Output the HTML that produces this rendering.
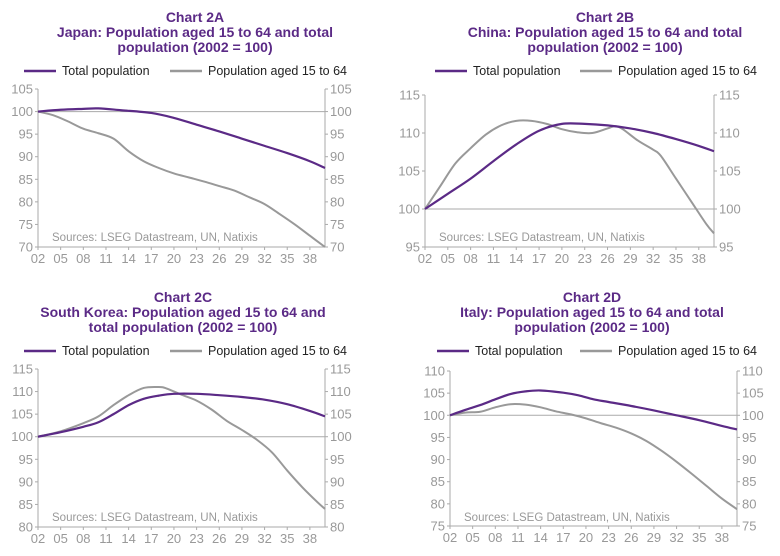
<!DOCTYPE html>
<html><head><meta charset="utf-8"><style>
body{margin:0;background:#fff;width:780px;height:556px;overflow:hidden;font-family:"Liberation Sans",Arial,sans-serif}
svg{position:absolute;left:0;top:0}
.t{font-weight:bold;fill:#5b2a86;font-size:14px;text-anchor:middle}
.lg{font-size:12.5px;fill:#222}
.ax{font-size:13px;fill:#999}
.src{font-size:11.5px;fill:#999}
</style></head><body>
<svg id="s" width="780" height="556" xmlns="http://www.w3.org/2000/svg">
<text class="t" x="195" y="22">Chart 2A</text>
<text class="t" x="195" y="37">Japan: Population aged 15 to 64 and total</text>
<text class="t" x="195" y="52">population (2002 = 100)</text>
<text class="t" x="605" y="22">Chart 2B</text>
<text class="t" x="605" y="37">China: Population aged 15 to 64 and total</text>
<text class="t" x="605" y="52">population (2002 = 100)</text>
<text class="t" x="183" y="302">Chart 2C</text>
<text class="t" x="183" y="317">South Korea: Population aged 15 to 64 and</text>
<text class="t" x="183" y="332">total population (2002 = 100)</text>
<text class="t" x="592" y="302">Chart 2D</text>
<text class="t" x="592" y="317">Italy: Population aged 15 to 64 and total</text>
<text class="t" x="592" y="332">population (2002 = 100)</text>

<text class="lg" x="62" y="75">Total population</text><text class="lg" x="208" y="75">Population aged 15 to 64</text>
<text class="lg" x="473" y="75">Total population</text><text class="lg" x="618" y="75">Population aged 15 to 64</text>
<text class="lg" x="62" y="355">Total population</text><text class="lg" x="208" y="355">Population aged 15 to 64</text>
<text class="lg" x="475" y="355">Total population</text><text class="lg" x="618" y="355">Population aged 15 to 64</text>

<text class="src" x="52" y="241">Sources: LSEG Datastream, UN, Natixis</text>
<text class="src" x="439" y="241">Sources: LSEG Datastream, UN, Natixis</text>
<text class="src" x="52" y="521">Sources: LSEG Datastream, UN, Natixis</text>
<text class="src" x="464" y="521">Sources: LSEG Datastream, UN, Natixis</text>
<g id="g"></g>
</svg>
<script>
const NS="http://www.w3.org/2000/svg",g=document.getElementById('g');
function el(n,a,txt){const e=document.createElementNS(NS,n);for(const k in a)e.setAttribute(k,a[k]);if(txt!==undefined)e.textContent=txt;g.appendChild(e);return e;}
const XL=["02","05","08","11","14","17","20","23","26","29","32","35","38"];
const P="#5b2a86",G="#999";
const charts=[
{L:38,R:325,T:89,B:247,max:105,min:70,yl:["105","100","95","90","85","80","75","70"],lg:[24,170,71],
tot:[[2,100],[5,100.4],[8,100.6],[10,100.7],[13,100.3],[17,99.7],[20,98.6],[23,97.1],[26,95.6],[29,94.0],[32,92.4],[35,90.8],[38,89.0],[40,87.5]],
wrk:[[2,100],[4,99.2],[6,97.8],[8,96.2],[10,95.2],[12,94.0],[14,91.2],[16,89.0],[18,87.5],[20,86.3],[22,85.4],[24,84.5],[26,83.5],[28,82.5],[30,81.0],[32,79.5],[34,77.3],[36,75.0],[38,72.5],[40,70]]},
{L:425,R:714,T:95,B:247,max:115,min:95,yl:["115","110","105","100","95"],lg:[435,580,71],
tot:[[2,100],[5,102],[8,104],[11,106.3],[14,108.5],[17,110.3],[20,111.2],[23,111.2],[26,111.0],[29,110.6],[32,110.0],[35,109.2],[38,108.3],[40,107.6]],
wrk:[[2,100],[4,103],[6,106],[8,108],[10,109.8],[12,111],[14,111.6],[16,111.6],[18,111.2],[20,110.5],[22,110.1],[24,110.0],[26,110.6],[27,110.9],[28,110.5],[30,109.0],[32,107.8],[33,107],[35,104],[37,101],[39,98],[40,96.8]]},
{L:38,R:325,T:369,B:527,max:115,min:80,yl:["115","110","105","100","95","90","85","80"],lg:[24,170,351],
tot:[[2,100],[5,101],[8,102.2],[10,103.2],[12,105],[14,107],[16,108.4],[18,109.1],[20,109.5],[23,109.5],[26,109.2],[29,108.8],[32,108.2],[35,107.2],[38,105.7],[40,104.5]],
wrk:[[2,100],[5,101.2],[8,103],[10,104.5],[12,107],[14,109.2],[16,110.8],[18,111],[19,110.7],[21,109.3],[23,108],[25,106],[27,103.5],[29,101.5],[31,99.3],[33,96.5],[35,92.5],[37,88.8],[39,85.5],[40,84]]},
{L:450,R:737,T:371,B:526,max:110,min:75,yl:["110","105","100","95","90","85","80","75"],lg:[437,580,351],
tot:[[2,100],[4,101.2],[6,102.3],[8,103.6],[10,104.8],[12,105.4],[14,105.6],[17,105.1],[19,104.5],[21,103.6],[23,103],[26,102.1],[29,101.1],[32,100],[35,98.9],[38,97.6],[40,96.8]],
wrk:[[2,100],[4,100.6],[6,100.8],[8,101.8],[10,102.5],[12,102.4],[14,101.8],[16,100.9],[18,100.2],[20,99.3],[22,98.2],[24,97.2],[26,95.9],[28,94.2],[30,92],[32,89.5],[34,86.8],[36,84],[38,81.2],[40,78.8]]}];
function smooth(pts){let d="M"+pts[0][0]+","+pts[0][1];for(let i=0;i<pts.length-1;i++){const p0=pts[i-1]||pts[i],p1=pts[i],p2=pts[i+1],p3=pts[i+2]||p2;
d+=` C${p1[0]+(p2[0]-p0[0])/6},${p1[1]+(p2[1]-p0[1])/6} ${p2[0]-(p3[0]-p1[0])/6},${p2[1]-(p3[1]-p1[1])/6} ${p2[0]},${p2[1]}`;}return d;}
charts.forEach(c=>{
 const X=yr=>c.L+(yr-2)*(c.R-c.L)/38, Y=v=>c.T+(c.max-v)*(c.B-c.T)/(c.max-c.min);
 el('line',{x1:c.L,y1:Y(100),x2:c.R,y2:Y(100),stroke:"#aaa","stroke-width":1});
 el('line',{x1:c.L,y1:c.T,x2:c.L,y2:c.B,stroke:"#aaa"});
 el('line',{x1:c.R,y1:c.T,x2:c.R,y2:c.B,stroke:"#aaa"});
 el('line',{x1:c.L,y1:c.B,x2:c.R,y2:c.B,stroke:"#aaa"});
 const n=c.yl.length;
 c.yl.forEach((s,i)=>{const y=c.T+i*(c.B-c.T)/(n-1);
  el('line',{x1:c.L-3,y1:y,x2:c.L,y2:y,stroke:"#aaa"});el('line',{x1:c.R,y1:y,x2:c.R+3,y2:y,stroke:"#aaa"});
  el('text',{class:"ax",x:c.L-5,y:y+4.5,"text-anchor":"end"},s);el('text',{class:"ax",x:c.R+5,y:y+4.5},s);});
 XL.forEach((s,i)=>{const x=X(2+3*i);el('line',{x1:x,y1:c.B,x2:x,y2:c.B+3,stroke:"#aaa"});el('text',{class:"ax",x:x,y:c.B+16,"text-anchor":"middle"},s);});
 el('path',{d:smooth(c.wrk.map(p=>[X(p[0]),Y(p[1])])),fill:"none",stroke:G,"stroke-width":2});
 el('path',{d:smooth(c.tot.map(p=>[X(p[0]),Y(p[1])])),fill:"none",stroke:P,"stroke-width":2.2});
 el('line',{x1:c.lg[0],y1:c.lg[2],x2:c.lg[0]+32,y2:c.lg[2],stroke:P,"stroke-width":2.5});
 el('line',{x1:c.lg[1],y1:c.lg[2],x2:c.lg[1]+32,y2:c.lg[2],stroke:G,"stroke-width":2.5});
});
</script>
</body></html>
